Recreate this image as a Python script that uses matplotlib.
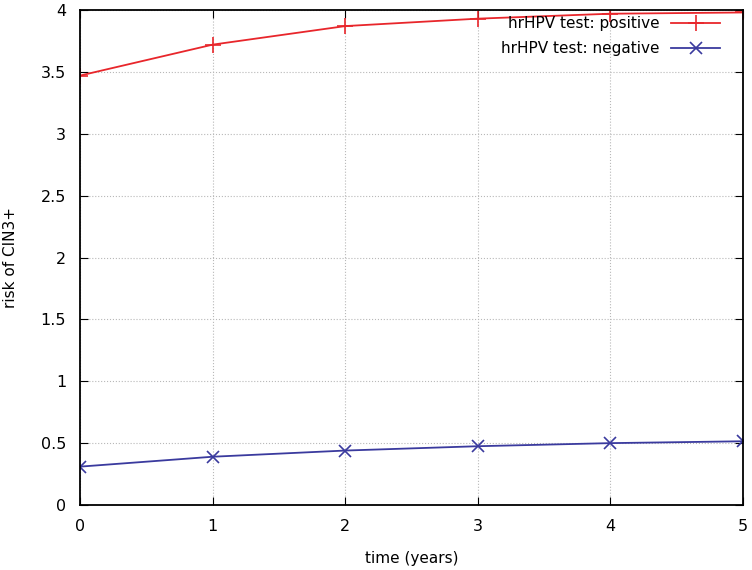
import matplotlib
matplotlib.use("Agg")
import matplotlib.pyplot as plt

years = [0, 1, 2, 3, 4, 5]
positive = [3.47, 3.72, 3.87, 3.93, 3.97, 3.98]
negative = [0.31, 0.39, 0.44, 0.475, 0.50, 0.515]

fig = plt.figure(figsize=(7.52, 5.70), dpi=100)
ax = fig.add_axes([80 / 752, 1 - 505 / 570, 663 / 752, 495 / 570])

ax.plot(years, positive, color="#e8262b", lw=1.3, marker="+", ms=11, mew=1.2,
        label="hrHPV test: positive")
ax.plot(years, negative, color="#3a3a9e", lw=1.3, marker="x", ms=9, mew=1.2,
        label="hrHPV test: negative")

ax.set_xlim(0, 5)
ax.set_ylim(0, 4)
ax.set_xticks(years)
ax.set_yticks([0, 0.5, 1, 1.5, 2, 2.5, 3, 3.5, 4])
ax.set_yticklabels(["0", "0.5", "1", "1.5", "2", "2.5", "3", "3.5", "4"])
ax.grid(True, color="#b8b8b8", ls=":", lw=0.8)
ax.tick_params(direction="in", top=True, right=True, length=6, labelsize=11.5, pad=10)
for s in ax.spines.values():
    s.set_linewidth(1.3)

ax.set_xlabel("time (years)", fontsize=11, labelpad=12)
ax.set_ylabel("risk of CIN3+", fontsize=11, labelpad=16)

leg = ax.legend(loc="upper right", markerfirst=False, frameon=False, fontsize=11,
                handlelength=3.2, borderaxespad=0.0, labelspacing=0.65,
                bbox_to_anchor=(0.975, 1.0))
for t in leg.get_texts():
    t.set_ha("right")

fig.savefig("out.png", dpi=100)
